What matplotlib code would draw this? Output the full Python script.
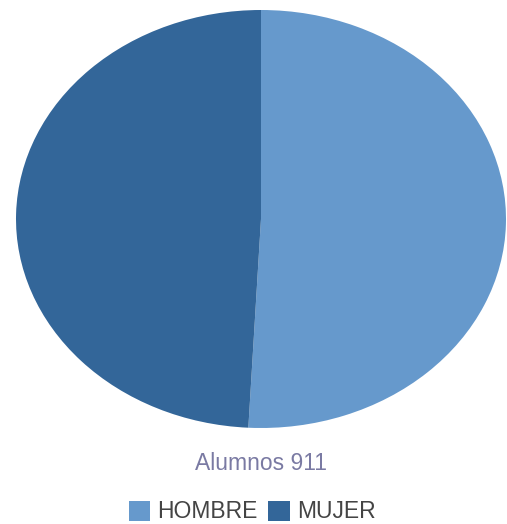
import matplotlib.pyplot as plt
from matplotlib.patches import Patch

# Du lieu
categorias = ['HOMBRE', 'MUJER']
valores = [463, 448]
colores = ['#6699cc', '#336699']
titulo = 'Alumnos 911'

fig = plt.figure(figsize=(5.07, 5.24), dpi=100)
ax = fig.add_axes([16/507, (524-428)/524, 490/507, 418/524])
ax.pie(valores, colors=colores, startangle=90, counterclock=False,
       radius=1, wedgeprops=dict(linewidth=0))
ax.set_xlim(-1, 1)
ax.set_ylim(-1, 1)
ax.set_aspect('auto')
ax.axis('off')

fig.text(261/507, 1 - 464/524, titulo, ha='center', va='center',
         fontsize=16.5, color='#7a7aa3', family='Liberation Sans')

handles = [Patch(facecolor=c, edgecolor='none') for c in colores]
fig.legend(handles, categorias, loc='center', bbox_to_anchor=(252/507, 1 - 512/524),
           ncol=2, frameon=False, handlelength=0.95, handleheight=0.95,
           handletextpad=0.3, columnspacing=0.45, borderpad=0, borderaxespad=0,
           prop={'family': 'Liberation Sans', 'size': 16.5},
           labelcolor='#444444')

fig.savefig('out.png', dpi=100)
